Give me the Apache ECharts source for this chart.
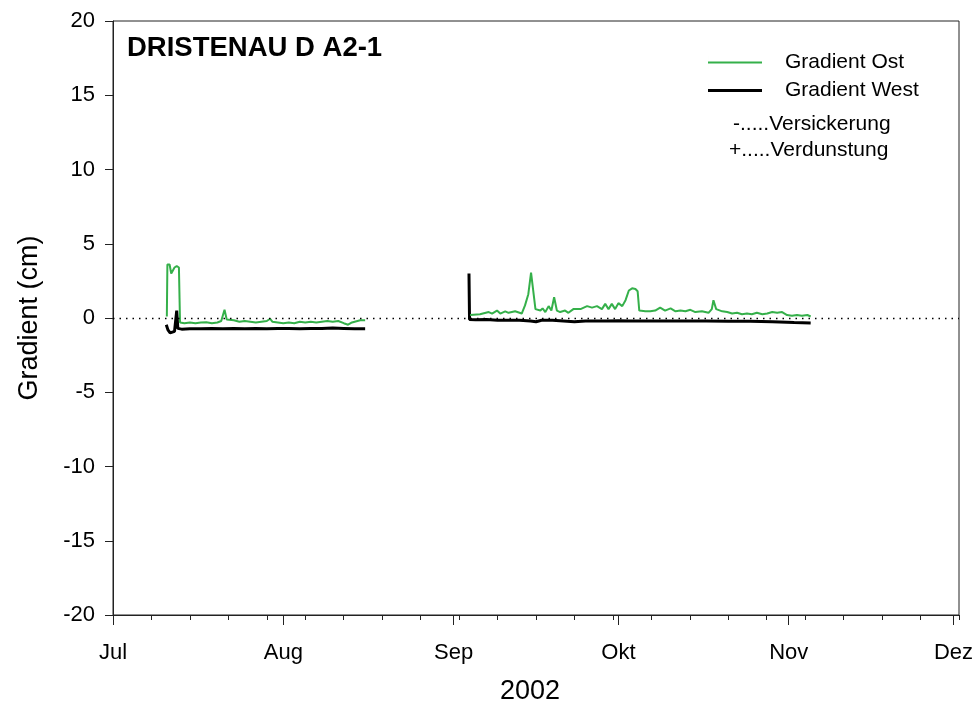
<!DOCTYPE html>
<html>
<head>
<meta charset="utf-8">
<script src="https://cdn.jsdelivr.net/npm/echarts@6/dist/echarts.min.js"></script>
<style>html,body{margin:0;padding:0;background:#fff}#c{width:973px;height:704px}</style>
</head>
<body>
<div id="c"></div>
<script>
// x values: days since 2002-07-01 00:00
const monthStarts = [0, 31, 62, 92, 123, 153];
const monthLabels = ['Jul', 'Aug', 'Sep', 'Okt', 'Nov', 'Dez'];
const yTicks = [-20, -15, -10, -5, 0, 5, 10, 15, 20];

// Gradient Ost (green)
const ostDays1 = [9.8, 9.9, 10.3, 10.6, 10.9, 11.2, 11.6, 12.0, 12.2, 12.5, 13, 14, 15, 16, 17, 18, 19, 19.7, 20.3, 20.7, 21, 22, 23, 24, 25, 26, 27, 28, 28.6, 29, 30, 31, 32, 33, 34, 35, 36, 37, 38, 39, 40, 41, 42, 42.8, 43.5, 44, 44.5, 45, 45.9];
const ostVals1 = [0.1, 3.6, 3.6, 3.0, 2.9, 3.4, 3.5, 3.4, -0.3, -0.3, -0.35, -0.3, -0.35, -0.3, -0.28, -0.35, -0.3, -0.2, 0.55, -0.1, -0.2, -0.15, -0.25, -0.2, -0.25, -0.3, -0.25, -0.2, -0.05, -0.25, -0.3, -0.35, -0.3, -0.35, -0.25, -0.3, -0.25, -0.3, -0.25, -0.2, -0.25, -0.2, -0.35, -0.45, -0.3, -0.25, -0.2, -0.15, -0.15];
const ostDays2 = [65.0, 66.8, 68.4, 69.0, 69.9, 70.5, 71.4, 72.0, 73.2, 74.4, 75.0, 75.6, 76.1, 76.4, 76.9, 77.8, 78.2, 78.7, 79.3, 79.8, 80.3, 80.8, 81.4, 82.3, 82.9, 83.8, 85.1, 86.3, 87.2, 88.1, 89.0, 89.6, 90.2, 90.8, 91.4, 92.0, 92.7, 93.3, 93.9, 94.5, 95.1, 95.5, 95.8, 96.9, 97.8, 98.7, 99.6, 100.5, 101.5, 102.4, 103.3, 104.2, 105.1, 106.0, 107.2, 108.4, 109.0, 109.3, 109.8, 110.9, 111.8, 112.7, 113.6, 114.5, 115.4, 116.3, 117.2, 118.2, 119.1, 120.0, 120.9, 121.8, 122.7, 123.6, 124.5, 125.4, 126.4, 127.0];
const ostVals2 = [0.2, 0.25, 0.4, 0.3, 0.5, 0.3, 0.45, 0.35, 0.45, 0.3, 0.85, 1.6, 3.05, 3.0, 0.6, 0.5, 0.65, 0.4, 0.8, 0.5, 1.4, 0.5, 0.4, 0.5, 0.35, 0.6, 0.6, 0.8, 0.7, 0.8, 0.6, 0.95, 0.6, 0.95, 0.6, 1.0, 0.8, 1.2, 1.85, 2.0, 1.95, 1.8, 0.5, 0.45, 0.45, 0.5, 0.7, 0.5, 0.65, 0.45, 0.5, 0.45, 0.55, 0.4, 0.45, 0.35, 0.6, 1.2, 0.6, 0.45, 0.4, 0.3, 0.35, 0.25, 0.3, 0.25, 0.35, 0.25, 0.3, 0.4, 0.35, 0.4, 0.2, 0.15, 0.2, 0.15, 0.2, 0.1];

// Gradient West (black)
const westDays1 = [9.7, 10.0, 10.4, 10.8, 11.2, 11.6, 11.8, 12.5, 14, 16, 18, 20, 22, 24, 26, 28, 30, 32, 34, 36, 38, 40, 42, 44, 45.9];
const westVals1 = [-0.45, -0.8, -1.0, -0.95, -0.9, 0.5, -0.7, -0.75, -0.72, -0.72, -0.7, -0.72, -0.7, -0.72, -0.7, -0.72, -0.7, -0.7, -0.72, -0.7, -0.7, -0.68, -0.7, -0.72, -0.72];
const westDays2 = [64.8, 64.9, 66, 68, 70, 72, 74, 76, 77, 78, 80, 82, 84, 86, 88, 90, 92, 94, 96, 98, 100, 104, 108, 112, 116, 120, 124, 127];
const westVals2 = [3.0, -0.1, -0.12, -0.1, -0.15, -0.15, -0.15, -0.2, -0.25, -0.15, -0.15, -0.2, -0.25, -0.2, -0.2, -0.2, -0.18, -0.2, -0.2, -0.2, -0.2, -0.2, -0.2, -0.22, -0.22, -0.25, -0.3, -0.33];

function pairs(d1, v1, d2, v2) {
  const out = d1.map((d, i) => [d, v1[i]]);
  out.push([(d1[d1.length - 1] + d2[0]) / 2, null]);
  return out.concat(d2.map((d, i) => [d, v2[i]]));
}

const FONT = 'Liberation Sans, Arial, sans-serif';
// legend line icons (thin sliver defines the full icon box so line thickness is kept)
const iconOst = 'path://M0,0L0.01,0L0.01,14L0,14Z M0,6L54,6L54,8L0,8Z';
const iconWest = 'path://M0,0L0.01,0L0.01,14L0,14Z M0,5.5L54,5.5L54,8.5L0,8.5Z';

const chart = echarts.init(document.getElementById('c'), null, {renderer: 'canvas'});
chart.setOption({
  animation: false,
  backgroundColor: '#fff',
  textStyle: {fontFamily: FONT, color: '#000'},
  title: {
    text: 'DRISTENAU D A2-1', left: 127, top: 34, padding: 0,
    textStyle: {fontFamily: FONT, fontSize: 27.5, fontWeight: 'bold', color: '#000'}
  },
  legend: {
    orient: 'vertical', left: 708, top: 52, padding: 0,
    itemWidth: 54, itemHeight: 14, itemGap: 7,
    textStyle: {fontFamily: FONT, fontSize: 21, color: '#000', padding: [0, 0, 0, 18]},
    data: [{name: 'Gradient Ost', icon: iconOst}, {name: 'Gradient West', icon: iconWest}]
  },
  graphic: [
    {type: 'text', left: 733, top: 114, style: {text: '-.....Versickerung', font: '21px ' + FONT, fill: '#000'}},
    {type: 'text', left: 729, top: 140, style: {text: '+.....Verdunstung', font: '21px ' + FONT, fill: '#000'}}
  ],
  grid: {
    left: 113, right: 14, top: 21, bottom: 89, outerBoundsMode: 'none', containLabel: false,
    show: true, borderColor: '#222', borderWidth: 1, backgroundColor: 'transparent'
  },
  xAxis: [
    {
      type: 'value', min: 0, max: 154, position: 'bottom',
      name: '2002', nameLocation: 'middle', nameGap: 63,
      nameTextStyle: {fontFamily: FONT, fontSize: 27, color: '#000', padding: [0, 12, 0, 0]},
      axisLine: {show: true, onZero: false, lineStyle: {color: '#222', width: 1}},
      axisTick: {show: true, customValues: monthStarts, length: 10, inside: false, lineStyle: {color: '#222'}},
      axisLabel: {
        show: true, customValues: monthStarts, margin: 27, fontSize: 22, color: '#000', fontFamily: FONT,
        formatter: v => monthLabels[monthStarts.indexOf(v)] || ''
      },
      splitLine: {show: false}
    },
    {
      type: 'value', min: 0, max: 154, interval: 7, position: 'bottom',
      axisLine: {show: false, onZero: false},
      axisTick: {show: true, length: 5, inside: false, lineStyle: {color: '#222'}},
      axisLabel: {show: false},
      splitLine: {show: false}
    }
  ],
  yAxis: {
    type: 'value', min: -20, max: 20, interval: 5,
    name: 'Gradient (cm)', nameLocation: 'middle', nameGap: 70,
    nameTextStyle: {fontFamily: FONT, fontSize: 27, color: '#000'},
    axisLine: {show: true, onZero: false, lineStyle: {color: '#222', width: 1}},
    axisTick: {show: true, length: 8, inside: false, lineStyle: {color: '#222'}},
    axisLabel: {margin: 18, fontSize: 22, color: '#000', fontFamily: FONT, customValues: yTicks},
    splitLine: {show: false}
  },
  series: [
    {
      name: 'Gradient Ost', type: 'line', xAxisIndex: 0, showSymbol: false, symbol: 'none',
      connectNulls: false, z: 3,
      lineStyle: {color: '#35b04a', width: 2},
      itemStyle: {color: '#35b04a'},
      data: pairs(ostDays1, ostVals1, ostDays2, ostVals2),
      markLine: {
        silent: true, symbol: 'none', label: {show: false},
        lineStyle: {color: '#000', type: [1.5, 5], width: 1.3},
        data: [{yAxis: 0}]
      }
    },
    {
      name: 'Gradient West', type: 'line', xAxisIndex: 0, showSymbol: false, symbol: 'none',
      connectNulls: false, z: 2,
      lineStyle: {color: '#000', width: 3},
      itemStyle: {color: '#000'},
      data: pairs(westDays1, westVals1, westDays2, westVals2)
    }
  ]
});
</script>
</body>
</html>
